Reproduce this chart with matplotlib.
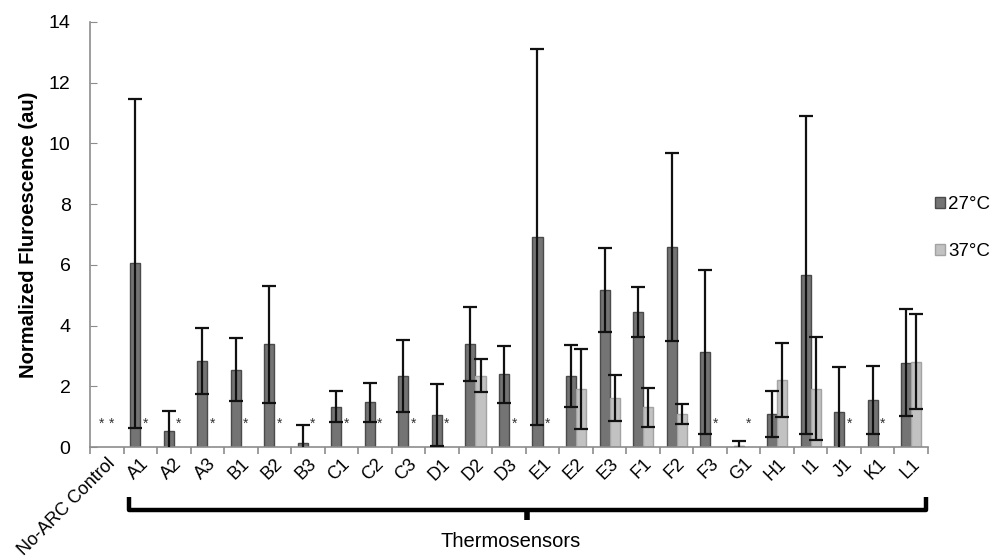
import numpy as np
import matplotlib
matplotlib.use("Agg")
import matplotlib.pyplot as plt
from matplotlib.patches import Patch
from matplotlib.transforms import blended_transform_factory, ScaledTranslation

plt.rcParams['font.family'] = ['Liberation Sans', 'DejaVu Sans']

categories = ["No-ARC Control", "A1", "A2", "A3", "B1", "B2", "B3", "C1", "C2", "C3",
              "D1", "D2", "D3", "E1", "E2", "E3", "F1", "F2", "F3", "G1", "H1", "I1",
              "J1", "K1", "L1"]
nan = np.nan
v27 = [nan, 6.05, 0.54, 2.84, 2.54, 3.38, 0.14, 1.33, 1.48, 2.34, 1.06, 3.40, 2.39,
       6.92, 2.34, 5.16, 4.45, 6.59, 3.13, 0.03, 1.09, 5.67, 1.16, 1.55, 2.78]
e27 = [nan, 5.42, 0.65, 1.09, 1.04, 1.92, 0.59, 0.51, 0.64, 1.18, 1.02, 1.22, 0.95,
       6.19, 1.03, 1.38, 0.83, 3.10, 2.71, 0.17, 0.76, 5.23, 1.47, 1.12, 1.76]
v37 = [nan, nan, nan, nan, nan, nan, nan, nan, nan, nan, nan, 2.35, nan,
       nan, 1.91, 1.61, 1.31, 1.08, nan, nan, 2.21, 1.92, nan, nan, 2.81]
e37 = [nan, nan, nan, nan, nan, nan, nan, nan, nan, nan, nan, 0.55, nan,
       nan, 1.33, 0.76, 0.64, 0.33, nan, nan, 1.22, 1.69, nan, nan, 1.56]
star27 = [True] + [False] * 24
star37 = [True, True, True, True, True, True, True, True, True, True, True, False, True,
          True, False, False, False, False, True, True, False, False, True, True, False]
star_level = 0.75
series_labels = ["27°C", "37°C"]
ylabel = "Normalized Fluroescence (au)"
group_label = "Thermosensors"

dark_fc, dark_ec = "#747474", "#4a4a4a"
light_fc, light_ec = "#c2c2c2", "#a3a3a3"
axis_gray = "#8c8c8c"

fig = plt.figure(figsize=(9.93, 5.6), dpi=100)
ax = fig.add_axes([90 / 993, 113 / 560, 838 / 993, 425 / 560])

x = np.arange(len(categories))
w = 0.3
ax.bar(x - w / 2, v27, w, color=dark_fc, edgecolor=dark_ec, linewidth=1.0, zorder=2)
ax.bar(x + w / 2, v37, w, color=light_fc, edgecolor=light_ec, linewidth=1.0, zorder=2)
ax.errorbar(x - w / 2, v27, yerr=e27, fmt='none', ecolor="#111111", elinewidth=1.6,
            capsize=5, capthick=1.6, zorder=3)
ax.errorbar(x + w / 2, v37, yerr=e37, fmt='none', ecolor="#111111", elinewidth=1.6,
            capsize=5, capthick=1.6, zorder=3)

for i in range(len(categories)):
    if star27[i]:
        ax.text(x[i] - w / 2, star_level, "*", ha='center', va='center', fontsize=10,
                color="#333333")
    if star37[i]:
        ax.text(x[i] + w / 2, star_level, "*", ha='center', va='center', fontsize=10,
                color="#333333")

ax.set_xlim(-0.5, len(categories) - 0.5)
ax.set_ylim(0, 14)
ax.set_yticks(np.arange(0, 15, 2))
ax.tick_params(axis='y', direction='in', length=5, color=axis_gray, labelsize=14, pad=14)
ax.set_xticks(x)
ax.set_xticklabels(categories, rotation=45, ha='right', va='top', rotation_mode='anchor',
                   fontsize=13)
shift = ScaledTranslation(3 / 100, 0, fig.dpi_scale_trans)
for lab in ax.get_xticklabels():
    lab.set_transform(lab.get_transform() + shift)
ax.set_xticks(np.arange(-0.5, len(categories), 1), minor=True)
ax.tick_params(axis='x', which='major', length=0, pad=6)
ax.tick_params(axis='x', which='minor', direction='out', length=5, color=axis_gray, width=1.2)
for s in ['top', 'right']:
    ax.spines[s].set_visible(False)
for s in ['left', 'bottom']:
    ax.spines[s].set_color(axis_gray)
    ax.spines[s].set_linewidth(1.2)

ax.set_ylabel(ylabel, fontsize=14.5, fontweight='bold', labelpad=8)

# bracket
tr = blended_transform_factory(ax.transData, ax.transAxes)
xl, xr = 0.66, 24.44
xm = (xl + xr) / 2
ax.plot([xl, xl, xr, xr], [-0.118, -0.148, -0.148, -0.118], color='black', lw=3.2,
        transform=tr, clip_on=False, solid_joinstyle='round', solid_capstyle='butt')
ax.plot([xm, xm], [-0.148, -0.172], color='black', lw=4, transform=tr, clip_on=False,
        solid_capstyle='butt')
ax.text(12.06, -0.223, group_label, transform=tr, ha='center', va='center', fontsize=14.5)

handles = [Patch(facecolor=dark_fc, edgecolor=dark_ec), Patch(facecolor=light_fc, edgecolor=light_ec)]
fig.legend(handles, series_labels, loc='center left', bbox_to_anchor=(935 / 993, 1 - 228 / 560),
           frameon=False, fontsize=13.5, handlelength=0.55, handleheight=0.55, handletextpad=0.15,
           labelspacing=1.6, borderpad=0, borderaxespad=0)

fig.savefig("out.png", dpi=100)
